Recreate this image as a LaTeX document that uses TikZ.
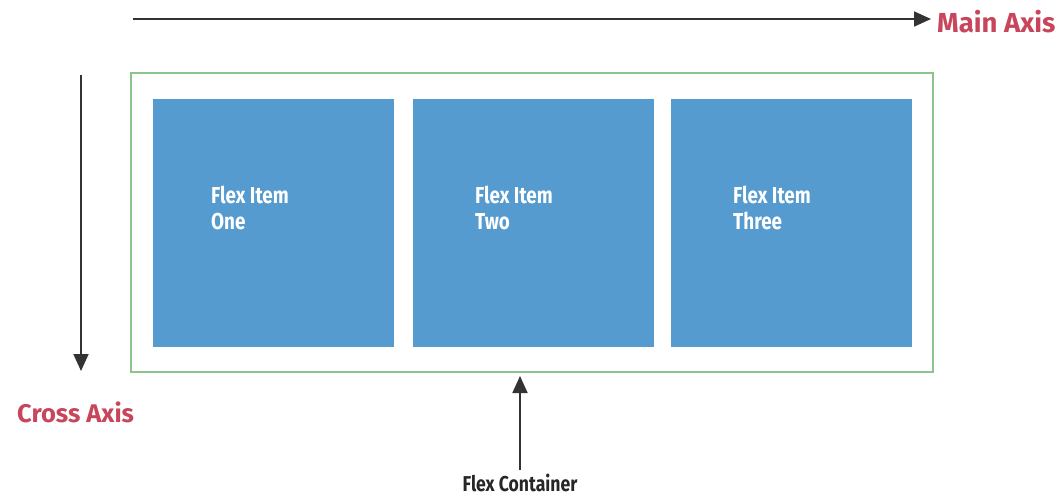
\documentclass[tikz,border=0pt]{standalone}
\usepackage{fontspec}
\setmainfont{Fira Sans}
\newfontfamily\narrowsans{Fira Sans}[FakeStretch=0.82]
\usetikzlibrary{arrows.meta}
\definecolor{axisred}{HTML}{C8465C}
\definecolor{itemblue}{HTML}{559BCF}
\definecolor{boxgreen}{HTML}{8CC48C}
\definecolor{arrowgray}{HTML}{333333}
\tikzset{
  axisarrow/.style={draw=arrowgray, line width=1.8pt, -{Triangle[length=17pt,width=15pt]}},
  axislabel/.style={text=axisred, font=\bfseries\fontsize{26.5}{30}\selectfont, inner sep=0pt},
  item/.style={fill=itemblue, draw=none, minimum width=241pt, minimum height=248pt, inner sep=0pt},
  itemlabel/.style={text=white, font=\narrowsans\bfseries\fontsize{23}{25.5}\selectfont, align=left, inner sep=0pt, anchor=north west},
  containerbox/.style={draw=boxgreen, line width=1.3pt},
}
\begin{document}
\begin{tikzpicture}[x=1pt,y=-1pt]
  \useasboundingbox[fill=white] (0,0) rectangle (1058,495);
  % container
  \draw[containerbox] (131,73) rectangle (933,372);
  \node[item] (one)   at (273.5,223) {};
  \node[item] (two)   at (533.5,223) {};
  \node[item] (three) at (791.5,223) {};
  \node[itemlabel] (lone)   at (211,186) {Flex Item\\One};
  \node[itemlabel] (ltwo)   at (475,186) {Flex Item\\Two};
  \node[itemlabel] (lthree) at (733,186) {Flex Item\\Three};
  % main axis
  \coordinate (mstart) at (133,19);
  \node[axislabel, font=\bfseries\fontsize{27.5}{30}\selectfont, anchor=west] (main) at (937,22) {Main Axis};
  \draw[axisarrow] (mstart) -- (mstart -| main.west) [shorten >=6pt];
  % cross axis
  \coordinate (cstart) at (81,75);
  \coordinate (cend) at (81,371);
  \draw[axisarrow] (cstart) -- (cend);
  \node[axislabel, font=\bfseries\fontsize{25.5}{30}\selectfont, anchor=west] (cross) at (17,412) {Cross Axis};
  % container pointer
  \node[font=\narrowsans\bfseries\fontsize{21.5}{24}\selectfont, inner sep=0pt, text=black!85, anchor=base] (flex) at (520,491) {Flex Container};
  \coordinate (ctop) at (520,376);
  \draw[axisarrow] (520,470) -- (ctop);
\end{tikzpicture}
\end{document}
